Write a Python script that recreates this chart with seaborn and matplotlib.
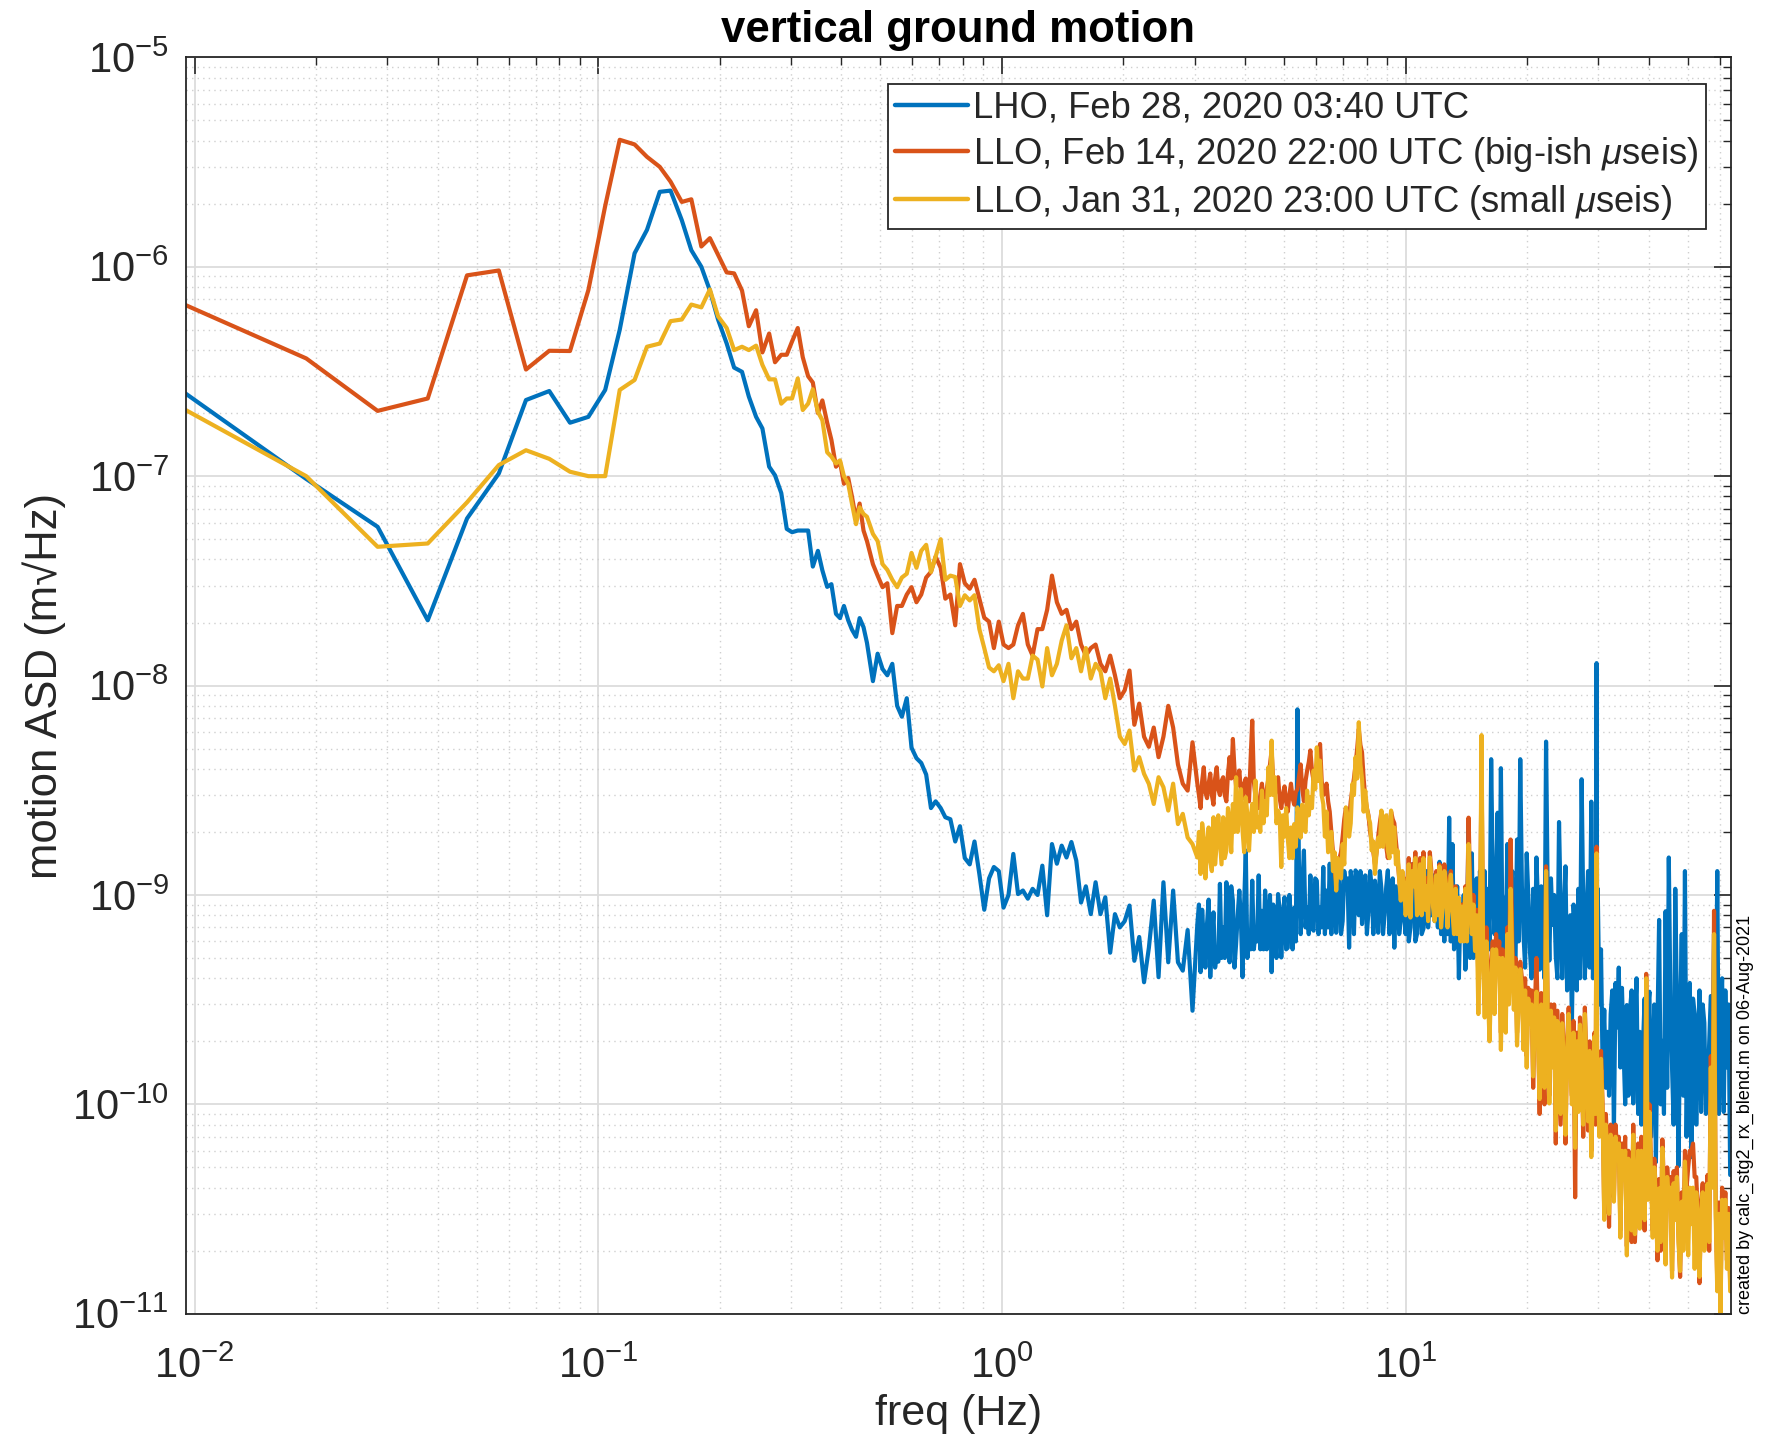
import numpy as np
import pandas as pd
import matplotlib
matplotlib.use("Agg")
import matplotlib.pyplot as plt
import seaborn as sns
from matplotlib.lines import Line2D
from matplotlib.ticker import LogLocator, LogFormatterMathtext, NullFormatter

# ---------------- data ----------------
# frequency samples (Hz)
freq_low = [0.0095, 0.0189, 0.0284, 0.0378, 0.0473, 0.0567, 0.0662, 0.0756, 0.0851, 0.0945,
            0.104, 0.113, 0.123, 0.132, 0.142, 0.151, 0.161, 0.170, 0.180, 0.189,
            0.198, 0.208, 0.217, 0.227, 0.236, 0.246, 0.255, 0.265, 0.274, 0.284,
            0.293, 0.302, 0.312, 0.321, 0.331, 0.340, 0.350, 0.359, 0.369, 0.378,
            0.388, 0.397, 0.406, 0.416, 0.425, 0.435, 0.444, 0.454, 0.463]
freq_mid = [0.479, 0.492, 0.506, 0.520, 0.535, 0.550, 0.565, 0.581, 0.597, 0.614,
            0.631, 0.649, 0.667, 0.685, 0.705, 0.724, 0.745, 0.766, 0.787, 0.809,
            0.832, 0.855, 0.879, 0.904, 0.929, 0.955, 0.982, 1.009, 1.038, 1.067,
            1.096, 1.127, 1.159, 1.191, 1.225, 1.259, 1.294, 1.330, 1.368, 1.406,
            1.445, 1.486, 1.528, 1.570, 1.614, 1.660, 1.706, 1.754, 1.803, 1.854,
            1.905, 1.959, 2.014, 2.070, 2.128, 2.188, 2.249, 2.312, 2.377, 2.443,
            2.512, 2.582, 2.655, 2.729, 2.805, 2.884, 2.965]
freq_3_10 = [3.048, 3.105, 3.162, 3.221, 3.281, 3.342, 3.404, 3.467, 3.532, 3.597,
             3.664, 3.733, 3.802, 3.873, 3.945, 4.018, 4.093, 4.169, 4.246, 4.325,
             4.406, 4.487, 4.571, 4.656, 4.742, 4.831, 4.920, 5.012, 5.105, 5.200,
             5.297, 5.395, 5.495, 5.598, 5.702, 5.808, 5.916, 6.026, 6.138, 6.252,
             6.368, 6.486, 6.607, 6.730, 6.855, 6.982, 7.112, 7.244, 7.379, 7.516,
             7.656, 7.798, 7.943, 8.091, 8.241, 8.395, 8.551, 8.710, 8.872, 9.036,
             9.204, 9.376, 9.550, 9.727, 9.908]
freq_3_10_b = [3.076, 3.133, 3.191, 3.251, 3.311, 3.373, 3.435, 3.499, 3.564, 3.630,
               3.698, 3.767, 3.837, 3.909, 3.981, 4.055, 4.131, 4.207, 4.285, 4.365,
               4.446, 4.529, 4.613, 4.699, 4.786, 4.875, 4.966, 5.058, 5.152, 5.248,
               5.346, 5.445, 5.546, 5.650, 5.755, 5.862, 5.971, 6.082, 6.195, 6.310,
               6.427, 6.546, 6.668, 6.792, 6.918, 7.047, 7.178, 7.311, 7.447, 7.586,
               7.727, 7.870, 8.017, 8.166, 8.318, 8.473, 8.630, 8.791, 8.954, 9.120,
               9.290, 9.462, 9.638, 9.817, 10.00]
freq_10_64 = [10.09, 10.28, 10.47, 10.67, 10.86, 11.07, 11.27, 11.48, 11.69, 11.91,
              12.13, 12.36, 12.59, 12.82, 13.06, 13.30, 13.55, 13.80, 14.06, 14.32,
              14.59, 14.86, 15.14, 15.42, 15.70, 16.00, 16.29, 16.60, 16.90, 17.22,
              17.54, 17.86, 18.20, 18.54, 18.88, 19.23, 19.59, 19.95, 20.32, 20.70,
              21.09, 21.48, 21.88, 22.28, 22.70, 23.12, 23.55, 23.99, 24.43, 24.89,
              25.35, 25.82, 26.30, 26.79, 27.29, 27.80, 28.31, 28.84, 29.38, 29.72,
              29.92, 30.48, 31.05, 31.62, 32.21, 32.81, 33.42, 34.04, 34.67, 35.32,
              35.97, 36.64, 37.33, 38.02, 38.73, 39.45, 40.18, 40.93, 41.69, 42.46,
              43.25, 44.06, 44.87, 45.71, 46.56, 47.42, 48.31, 49.20, 50.12, 51.05,
              52.00, 52.97, 53.95, 54.95, 55.98, 57.02, 58.08, 59.16, 60.26, 61.38,
              62.52, 63.68]
freq_10_64_b = [10.18, 10.37, 10.57, 10.76, 10.96, 11.17, 11.37, 11.58, 11.80, 12.02,
                12.24, 12.47, 12.70, 12.94, 13.18, 13.42, 13.67, 13.93, 14.19, 14.45,
                14.72, 15.00, 15.28, 15.56, 15.85, 16.14, 16.44, 16.75, 17.06, 17.38,
                17.70, 18.03, 18.37, 18.71, 19.05, 19.41, 19.77, 20.13, 20.51, 20.89,
                21.28, 21.68, 22.08, 22.49, 22.91, 23.33, 23.77, 24.21, 24.66, 25.12,
                25.58, 26.06, 26.54, 27.04, 27.54, 28.05, 28.57, 29.11, 29.55, 29.82,
                30.20, 30.76, 31.33, 31.91, 32.51, 33.11, 33.73, 34.35, 34.99, 35.64,
                36.30, 36.98, 37.67, 38.37, 39.09, 39.81, 40.55, 41.31, 42.07, 42.85,
                43.65, 44.46, 45.29, 46.13, 46.99, 47.86, 48.75, 49.66, 50.58, 51.52,
                52.48, 53.46, 54.45, 55.46, 56.50, 57.55, 58.62, 59.71, 60.82, 61.95,
                63.10]

# LHO, Feb 28, 2020 03:40 UTC  (m/rtHz)
lho_low = [2.48e-7, 9.7e-8, 5.73e-8, 2.05e-8, 6.28e-8, 1.03e-7, 2.31e-7, 2.55e-7, 1.8e-7, 1.92e-7,
           2.58e-7, 5.0e-7, 1.16e-6, 1.5e-6, 2.28e-6, 2.31e-6, 1.67e-6, 1.2e-6, 1.0e-6, 7.7e-7,
           5.6e-7, 4.3e-7, 3.3e-7, 3.15e-7, 2.4e-7, 1.92e-7, 1.69e-7, 1.11e-7, 1.01e-7, 8.3e-8,
           5.6e-8, 5.4e-8, 5.5e-8, 5.5e-8, 5.5e-8, 3.7e-8, 4.4e-8, 3.55e-8, 2.96e-8, 3.05e-8,
           2.2e-8, 2.1e-8, 2.4e-8, 2.05e-8, 1.85e-8, 1.71e-8, 2.1e-8, 1.9e-8, 1.6e-8]
lho_mid = [1.05e-8, 1.42e-8, 1.2e-8, 1.12e-8, 1.27e-8, 8.0e-9, 7.1e-9, 8.7e-9, 5.05e-9, 4.5e-9,
           4.27e-9, 3.76e-9, 2.6e-9, 2.8e-9, 2.6e-9, 2.35e-9, 2.3e-9, 1.8e-9, 2.13e-9, 1.5e-9,
           1.4e-9, 1.8e-9, 1.26e-9, 8.5e-10, 1.2e-9, 1.36e-9, 1.3e-9, 8.7e-10, 1.0e-9, 1.57e-9,
           1.01e-9, 1.05e-9, 9.6e-10, 1.07e-9, 1.0e-9, 1.38e-9, 8.0e-10, 1.75e-9, 1.41e-9, 1.72e-9,
           1.51e-9, 1.79e-9, 1.46e-9, 9.2e-10, 1.1e-9, 8.1e-10, 1.15e-9, 8.1e-10, 9.75e-10, 5.3e-10,
           8.1e-10, 7.0e-10, 7.5e-10, 8.9e-10, 4.85e-10, 6.3e-10, 3.83e-10, 5.6e-10, 9.4e-10, 4.05e-10,
           1.15e-9, 4.77e-10, 1.05e-9, 4.77e-10, 4.35e-10, 6.8e-10, 2.8e-10]
lho_3_10 = [7.26e-10, 4.28e-10, 6.0e-10, 7.26e-10, 4.05e-10, 8.26e-10, 5.2e-10, 1.13e-9, 7.0e-10, 1.15e-9,
            4.77e-10, 9.4e-10, 5.83e-10, 1.05e-9, 4.05e-10, 1.63e-9, 6.5e-10, 1.17e-9, 6.6e-10, 1.24e-9,
            8.4e-10, 1.05e-9, 7.8e-10, 4.28e-10, 7.5e-10, 1.01e-9, 5.03e-10, 9.75e-10, 5.6e-10, 7.5e-10,
            8.7e-10, 7.7e-9, 6.5e-10, 1.63e-9, 8.7e-10, 1.24e-9, 6.75e-10, 1.17e-9, 8.7e-10, 1.36e-9,
            1.05e-9, 1.41e-9, 1.05e-9, 6.6e-10, 1.24e-9, 7.5e-10, 1.1e-9, 5.6e-10, 1.09e-9, 1.31e-9,
            8.0e-10, 7.26e-10, 1.24e-9, 8.4e-10, 1.09e-9, 1.17e-9, 6.6e-10, 1.07e-9, 8.1e-10, 1.31e-9,
            1.0e-9, 5.6e-10, 1.05e-9, 7.5e-10, 8.7e-10]
lho_3_10_b = [9.0e-10, 8.5e-10, 4.5e-10, 9.5e-10, 6.0e-10, 4.5e-10, 4.8e-10, 5.0e-10, 5.0e-10, 8.0e-10,
              1.1e-9, 4.5e-10, 8.0e-10, 7.5e-10, 9.0e-10, 5.0e-10, 5.5e-10, 5.5e-10, 6.0e-10, 5.5e-10,
              5.5e-10, 5.5e-10, 1.0e-9, 9.0e-10, 5.0e-10, 8.5e-10, 8.0e-10, 5.5e-10, 1.0e-9, 5.5e-10,
              6.0e-10, 1.2e-9, 1.1e-9, 7.0e-10, 6.5e-10, 7.0e-10, 1.2e-9, 6.5e-10, 7.0e-10, 6.5e-10,
              7.0e-10, 6.5e-10, 1.3e-9, 1.1e-9, 6.5e-10, 1.3e-9, 1.2e-9, 1.3e-9, 6.5e-10, 1.2e-9,
              1.3e-9, 1.0e-9, 6.5e-10, 1.3e-9, 6.5e-10, 9.5e-10, 1.3e-9, 6.5e-10, 1.1e-9, 6.5e-10,
              1.2e-9, 1.1e-9, 6.5e-10, 1.2e-9, 6.5e-10]
lho_10_64 = [1.2e-9, 7.0e-10, 1.1e-9, 6.5e-10, 9.5e-10, 6.9e-10, 1.3e-9, 9.7e-10, 1.24e-9, 1.02e-9,
             1.44e-9, 8.8e-10, 1.07e-9, 2.34e-9, 1.75e-9, 7.96e-10, 4.0e-10, 6.5e-10, 4.4e-10, 2.23e-9,
             1.58e-9, 9.7e-10, 5.9e-10, 8.8e-10, 1.3e-9, 1.07e-9, 4.45e-9, 6.5e-10, 2.47e-9, 4.03e-9,
             9.7e-10, 1.75e-9, 9.7e-10, 5.9e-10, 1.84e-9, 4.45e-9, 6.5e-10, 1.58e-9, 5.4e-10, 1.07e-9,
             1.51e-9, 4.4e-10, 6.9e-10, 5.4e-9, 4.86e-10, 7.2e-10, 5.1e-10, 2.23e-9, 4.0e-10, 1.37e-9,
             4.63e-10, 2.45e-10, 6.5e-10, 1.07e-9, 3.57e-9, 4.0e-10, 1.3e-9, 2.79e-9, 8.36e-10, 1.28e-8,
             1.07e-9, 5.5e-10, 2.83e-10, 2.22e-10, 2.7e-10, 7.5e-11, 2.33e-10, 1.5e-10, 1.82e-10, 2.98e-10,
             2.83e-10, 1.01e-10, 4.0e-10, 2.22e-10, 1.91e-10, 1.36e-10, 3.45e-10, 1.5e-10, 5.3e-11, 7.6e-10,
             2.01e-10, 8.36e-10, 1.51e-9, 1.5e-10, 1.07e-9, 5.07e-11, 6.5e-10, 1.3e-9, 2.45e-10, 5.6e-11,
             2.7e-10, 1.91e-10, 9.2e-11, 2.45e-10, 1.17e-10, 3.29e-10, 6.5e-10, 1.3e-9, 2.45e-10, 9.2e-11,
             1.5e-10, 4.6e-11]
lho_10_64_b = [6.0e-10, 1.4e-9, 6.0e-10, 1.3e-9, 6.5e-10, 8.0e-10, 7.0e-10, 8.0e-10, 7.5e-10, 7.0e-10,
               6.5e-10, 6.0e-10, 6.5e-10, 6.0e-10, 5.5e-10, 1.1e-9, 9.0e-10, 1.0e-9, 6.0e-10, 5.0e-10,
               5.0e-10, 1.2e-9, 1.3e-9, 5.5e-10, 5.0e-10, 5.5e-10, 1.2e-9, 1.1e-9, 6.0e-10, 5.5e-10,
               5.0e-10, 4.8e-10, 1.3e-9, 4.5e-10, 6.0e-10, 1.1e-9, 4.5e-10, 1.0e-9, 4.0e-10, 4.5e-10,
               9.0e-10, 1.1e-9, 4.0e-10, 1.0e-9, 1.2e-9, 1.0e-9, 4.0e-10, 9.0e-10, 8.0e-10, 3.5e-10,
               8.0e-10, 9.0e-10, 3.5e-10, 4.0e-10, 9.0e-10, 8.0e-10, 4.5e-10, 4.0e-10, 4.0e-10, 5.0e-10,
               3.0e-10, 1.5e-10, 1.2e-10, 1.1e-10, 3.5e-10, 3.8e-10, 4.5e-10, 3.6e-10, 1.0e-10, 1.1e-10,
               3.5e-10, 2.5e-10, 9.0e-11, 8.0e-11, 3.2e-10, 2.8e-10, 7.0e-11, 3.0e-10, 2.4e-10, 1.0e-10,
               9.0e-11, 1.2e-10, 3.0e-10, 8.0e-11, 3.0e-10, 2.5e-10, 1.1e-10, 7.0e-11, 3.8e-10, 3.2e-10,
               8.0e-11, 3.5e-10, 3.0e-10, 9.0e-11, 2.0e-10, 1.0e-10, 1.6e-10, 9.0e-11, 4.0e-10, 3.5e-10,
               3.0e-10]

# LLO, Feb 14, 2020 22:00 UTC (big-ish useis)
llo_feb_low = [6.56e-7, 3.65e-7, 2.05e-7, 2.35e-7, 9.1e-7, 9.6e-7, 3.23e-7, 3.97e-7, 3.96e-7, 7.74e-7,
               1.95e-6, 4.04e-6, 3.84e-6, 3.35e-6, 3.0e-6, 2.55e-6, 2.04e-6, 2.1e-6, 1.25e-6, 1.37e-6,
               1.14e-6, 9.4e-7, 9.3e-7, 7.7e-7, 5.2e-7, 6.2e-7, 3.9e-7, 4.8e-7, 3.5e-7, 3.8e-7,
               3.8e-7, 4.4e-7, 5.1e-7, 3.7e-7, 3.0e-7, 2.8e-7, 2.0e-7, 2.3e-7, 1.8e-7, 1.49e-7,
               1.11e-7, 1.17e-7, 9.2e-8, 9.8e-8, 8.0e-8, 6.2e-8, 7.4e-8, 5.5e-8, 4.9e-8]
llo_feb_mid = [3.8e-8, 3.35e-8, 2.95e-8, 3.08e-8, 1.78e-8, 2.4e-8, 2.4e-8, 2.72e-8, 2.95e-8, 2.5e-8,
               2.72e-8, 3.28e-8, 3.49e-8, 4.13e-8, 3.65e-8, 2.6e-8, 2.72e-8, 1.94e-8, 3.8e-8, 3.08e-8,
               2.9e-8, 3.2e-8, 2.6e-8, 2.11e-8, 2.02e-8, 1.51e-8, 2.02e-8, 1.57e-8, 1.51e-8, 1.57e-8,
               1.94e-8, 2.2e-8, 1.57e-8, 1.39e-8, 1.86e-8, 1.86e-8, 2.3e-8, 3.35e-8, 2.5e-8, 2.2e-8,
               2.3e-8, 1.86e-8, 2.02e-8, 1.57e-8, 1.39e-8, 1.51e-8, 1.57e-8, 1.27e-8, 1.17e-8, 1.39e-8,
               1.12e-8, 8.7e-9, 9.5e-9, 1.18e-8, 6.5e-9, 8.2e-9, 5.7e-9, 5.1e-9, 6.3e-9, 4.55e-9,
               5.7e-9, 8.0e-9, 6.3e-9, 4.2e-9, 3.4e-9, 3.15e-9, 5.36e-9]
llo_feb_3_10 = [3.4e-9, 2.6e-9, 4.07e-9, 2.9e-9, 3.8e-9, 2.7e-9, 4.07e-9, 3.0e-9, 3.65e-9, 2.8e-9,
                4.55e-9, 5.56e-9, 3.3e-9, 3.93e-9, 2.9e-9, 3.6e-9, 2.8e-9, 6.8e-9, 2.93e-9, 2.6e-9,
                3.4e-9, 2.5e-9, 3.6e-9, 4.9e-9, 3.0e-9, 3.65e-9, 2.6e-9, 3.3e-9, 2.5e-9, 3.4e-9,
                2.7e-9, 3.2e-9, 4.2e-9, 2.8e-9, 3.93e-9, 4.9e-9, 3.5e-9, 4.2e-9, 5.26e-9, 3.0e-9,
                3.4e-9, 2.5e-9, 1.6e-9, 1.15e-9, 1.5e-9, 1.9e-9, 2.6e-9, 2.3e-9, 3.2e-9, 4.2e-9,
                6.2e-9, 4.8e-9, 2.9e-9, 2.4e-9, 1.8e-9, 1.4e-9, 1.9e-9, 2.5e-9, 2.1e-9, 1.5e-9,
                2.5e-9, 2.2e-9, 1.5e-9, 1.0e-9, 1.2e-9]
llo_feb_3_10_b = [3.0e-9, 3.5e-9, 3.1e-9, 3.4e-9, 3.0e-9, 3.6e-9, 3.2e-9, 3.5e-9, 3.0e-9, 3.8e-9,
                  3.6e-9, 4.0e-9, 3.4e-9, 3.1e-9, 3.4e-9, 3.0e-9, 4.5e-9, 3.5e-9, 2.7e-9, 3.0e-9,
                  2.8e-9, 3.2e-9, 4.2e-9, 3.5e-9, 3.4e-9, 2.9e-9, 3.0e-9, 2.8e-9, 3.0e-9, 2.9e-9,
                  3.1e-9, 3.7e-9, 3.2e-9, 3.5e-9, 4.3e-9, 3.9e-9, 3.9e-9, 4.6e-9, 3.5e-9, 3.1e-9,
                  2.8e-9, 2.0e-9, 1.3e-9, 1.4e-9, 1.6e-9, 2.3e-9, 2.2e-9, 2.8e-9, 3.6e-9, 5.0e-9,
                  5.2e-9, 3.6e-9, 2.6e-9, 2.0e-9, 1.6e-9, 1.6e-9, 2.2e-9, 2.3e-9, 1.7e-9, 2.0e-9,
                  2.3e-9, 1.8e-9, 1.2e-9, 1.1e-9, 1.1e-9]
llo_feb_10_64 = [1.1e-9, 8.5e-10, 1.2e-9, 9.0e-10, 1.5e-9, 1.6e-9, 1.2e-9, 1.6e-9, 9.5e-10, 1.3e-9,
                 1.4e-9, 9.5e-10, 1.2e-9, 1.1e-9, 9.0e-10, 1.1e-9, 8.0e-10, 9.0e-10, 1.1e-9, 2.34e-9,
                 7.0e-10, 6.0e-10, 4.0e-10, 4.0e-9, 3.0e-10, 4.0e-10, 4.5e-10, 3.0e-10, 5.0e-10, 2.2e-10,
                 4.5e-10, 7.0e-10, 1.84e-9, 3.5e-10, 2.2e-10, 4.8e-10, 2.0e-10, 1.7e-10, 2.7e-10, 1.2e-10,
                 5.0e-10, 9.0e-11, 2.0e-10, 1.37e-9, 1.1e-10, 1.7e-10, 6.5e-11, 1.5e-10, 2.7e-10, 6.5e-11,
                 2.9e-10, 1.1e-10, 3.6e-11, 1.0e-10, 1.8e-10, 2.9e-10, 7.5e-11, 6.0e-11, 2.2e-10, 1.7e-9,
                 1.6e-10, 1.8e-10, 3.0e-11, 6.0e-11, 8.0e-11, 3.6e-11, 6.0e-11, 2.5e-11, 4.8e-11, 2.1e-11,
                 4.0e-11, 8.0e-11, 3.6e-11, 2.8e-11, 5.3e-11, 4.2e-10, 1.0e-10, 2.5e-11, 3.6e-11, 4.4e-11,
                 6.8e-11, 1.9e-11, 3.7e-11, 1.6e-11, 3.1e-11, 2.4e-11, 3.8e-11, 6.0e-11, 5.0e-11, 6.0e-11,
                 4.5e-11, 2.9e-11, 3.4e-11, 2.2e-11, 4.6e-11, 1.7e-10, 8.4e-10, 1.4e-11, 1.1e-11, 2.5e-11,
                 1.8e-11, 1.4e-11]
llo_feb_10_64_b = [1.5e-9, 1.4e-9, 1.6e-9, 1.0e-9, 8.5e-10, 9.5e-10, 8.0e-10, 1.3e-9, 8.0e-10, 9.0e-10,
                   8.0e-10, 1.4e-9, 7.5e-10, 1.3e-9, 7.0e-10, 7.0e-10, 6.5e-10, 6.5e-10, 7.0e-10, 1.1e-9,
                   1.0e-9, 8.5e-10, 7.0e-10, 6.0e-10, 7.0e-10, 2.5e-10, 6.0e-10, 6.5e-10, 6.0e-10, 5.5e-10,
                   2.6e-10, 3.5e-10, 6.0e-10, 5.0e-10, 3.5e-10, 4.0e-10, 4.0e-10, 3.6e-10, 3.5e-10, 2.8e-10,
                   2.4e-10, 3.4e-10, 1.0e-10, 2.8e-10, 3.0e-10, 3.0e-10, 2.8e-10, 8.0e-11, 1.7e-10, 2.0e-10,
                   1.7e-10, 2.5e-10, 2.2e-10, 2.6e-10, 7.0e-11, 1.6e-10, 2.0e-10, 1.3e-10, 8.0e-11, 1.1e-10,
                   8.0e-11, 1.0e-10, 9.0e-11, 2.6e-11, 7.0e-11, 8.0e-11, 7.0e-11, 6.5e-11, 7.0e-11, 6.0e-11,
                   2.2e-11, 2.2e-11, 6.5e-11, 7.0e-11, 2.5e-11, 4.0e-11, 5.0e-11, 5.5e-11, 1.8e-11, 2.0e-11,
                   4.0e-11, 5.0e-11, 4.5e-11, 4.8e-11, 5.0e-11, 1.5e-11, 2.2e-11, 4.0e-11, 6.0e-11, 6.5e-11,
                   4.5e-11, 1.4e-11, 4.2e-11, 2.8e-11, 2.0e-11, 4.5e-11, 3.5e-11, 3.4e-11, 4.0e-11, 3.8e-11,
                   3.2e-11]

# LLO, Jan 31, 2020 23:00 UTC (small useis)
llo_jan_low = [2.07e-7, 1.0e-7, 4.6e-8, 4.77e-8, 7.5e-8, 1.13e-7, 1.33e-7, 1.21e-7, 1.05e-7, 1.0e-7,
               1.0e-7, 2.58e-7, 2.88e-7, 4.15e-7, 4.3e-7, 5.5e-7, 5.6e-7, 6.6e-7, 6.4e-7, 7.8e-7,
               5.8e-7, 5.1e-7, 4.0e-7, 4.15e-7, 4.0e-7, 4.2e-7, 3.4e-7, 2.9e-7, 2.9e-7, 2.22e-7,
               2.35e-7, 2.35e-7, 2.93e-7, 2.07e-7, 2.22e-7, 2.6e-7, 2.03e-7, 1.85e-7, 1.3e-7, 1.24e-7,
               1.15e-7, 1.19e-7, 1.0e-7, 9.2e-8, 7.4e-8, 5.9e-8, 7.1e-8, 6.6e-8, 6.4e-8]
llo_jan_mid = [5.3e-8, 4.9e-8, 3.8e-8, 3.57e-8, 3.2e-8, 2.95e-8, 3.28e-8, 3.42e-8, 4.3e-8, 3.65e-8,
               4.4e-8, 4.7e-8, 3.49e-8, 4.13e-8, 5.0e-8, 3.2e-8, 3.35e-8, 3.3e-8, 2.4e-8, 2.7e-8,
               2.55e-8, 2.7e-8, 1.86e-8, 1.51e-8, 1.22e-8, 1.17e-8, 1.25e-8, 1.05e-8, 1.27e-8, 8.7e-9,
               1.17e-8, 1.08e-8, 1.08e-8, 1.39e-8, 1.33e-8, 9.9e-9, 1.51e-8, 1.12e-8, 1.27e-8, 1.64e-8,
               1.94e-8, 1.35e-8, 1.51e-8, 1.17e-8, 1.51e-8, 1.08e-8, 1.27e-8, 1.17e-8, 8.7e-9, 1.08e-8,
               8.0e-9, 5.7e-9, 5.26e-9, 6.1e-9, 3.93e-9, 4.55e-9, 3.79e-9, 3.39e-9, 2.72e-9, 3.65e-9,
               3.27e-9, 2.53e-9, 3.4e-9, 2.18e-9, 2.44e-9, 1.88e-9, 1.75e-9]
llo_jan_3_10 = [1.51e-9, 1.26e-9, 1.88e-9, 1.63e-9, 1.46e-9, 2.35e-9, 1.75e-9, 1.82e-9, 2.35e-9, 1.63e-9,
                2.2e-9, 2.72e-9, 3.65e-9, 2.62e-9, 2.03e-9, 2.93e-9, 1.63e-9, 2.72e-9, 3.52e-9, 2.35e-9,
                3.15e-9, 2.8e-9, 4.07e-9, 5.46e-9, 3.65e-9, 2.53e-9, 1.36e-9, 1.9e-9, 1.88e-9, 2.1e-9,
                2.18e-9, 2.62e-9, 1.88e-9, 2.1e-9, 3.15e-9, 2.93e-9, 3.93e-9, 5.07e-9, 4.38e-9, 2.72e-9,
                2.5e-9, 1.75e-9, 1.3e-9, 1.05e-9, 1.31e-9, 1.75e-9, 2.62e-9, 1.9e-9, 3.39e-9, 4.55e-9,
                6.68e-9, 3.6e-9, 3.15e-9, 2.35e-9, 1.63e-9, 1.26e-9, 1.88e-9, 2.53e-9, 2.18e-9, 1.63e-9,
                2.53e-9, 2.1e-9, 1.63e-9, 9.4e-10, 1.13e-9]
llo_jan_3_10_b = [2.0e-9, 2.2e-9, 1.2e-9, 2.1e-9, 1.3e-9, 1.4e-9, 2.4e-9, 1.4e-9, 1.5e-9, 2.6e-9,
                  1.6e-9, 2.0e-9, 2.0e-9, 3.2e-9, 1.6e-9, 2.4e-9, 2.3e-9, 2.0e-9, 2.1e-9, 2.0e-9,
                  2.2e-9, 2.4e-9, 3.0e-9, 3.0e-9, 2.2e-9, 2.4e-9, 2.4e-9, 2.6e-9, 1.5e-9, 1.5e-9,
                  1.7e-9, 2.3e-9, 2.7e-9, 2.0e-9, 2.4e-9, 2.6e-9, 3.2e-9, 3.5e-9, 3.0e-9, 1.9e-9,
                  1.6e-9, 2.0e-9, 1.6e-9, 1.5e-9, 1.2e-9, 1.4e-9, 2.4e-9, 2.2e-9, 3.0e-9, 3.6e-9,
                  4.2e-9, 2.5e-9, 2.6e-9, 2.2e-9, 1.8e-9, 1.6e-9, 1.7e-9, 1.7e-9, 2.4e-9, 1.5e-9,
                  1.6e-9, 1.4e-9, 1.2e-9, 1.3e-9, 8.0e-10]
llo_jan_10_64 = [1.0e-9, 7.8e-10, 1.1e-9, 8.0e-10, 1.4e-9, 1.5e-9, 1.1e-9, 1.51e-9, 8.8e-10, 1.24e-9,
                 1.37e-9, 8.8e-10, 1.12e-9, 1.02e-9, 8.4e-10, 1.07e-9, 9.7e-10, 8.8e-10, 1.07e-9, 1.75e-9,
                 6.5e-10, 5.4e-10, 2.7e-10, 5.8e-9, 2.6e-10, 3.29e-10, 4.0e-10, 2.7e-10, 4.42e-10, 1.82e-10,
                 3.81e-10, 6.5e-10, 1.07e-9, 2.83e-10, 1.91e-10, 4.42e-10, 1.82e-10, 1.5e-10, 2.44e-10, 1.36e-10,
                 3.45e-10, 1.06e-10, 1.82e-10, 1.3e-9, 1.01e-10, 1.5e-10, 7.5e-11, 1.36e-10, 2.44e-10, 7.16e-11,
                 2.7e-10, 1.0e-10, 6.2e-11, 9.2e-11, 1.65e-10, 2.7e-10, 8.3e-11, 5.6e-11, 2.11e-10, 1.58e-9,
                 1.5e-10, 1.65e-10, 2.81e-11, 5.6e-11, 7.16e-11, 3.43e-11, 5.6e-11, 2.31e-11, 4.38e-11, 1.9e-11,
                 3.78e-11, 7.16e-11, 3.43e-11, 2.55e-11, 4.83e-11, 4.0e-10, 9.2e-11, 2.31e-11, 3.43e-11, 3.97e-11,
                 6.2e-11, 1.72e-11, 3.43e-11, 1.49e-11, 2.81e-11, 2.2e-11, 3.43e-11, 5.33e-11, 1.9e-11, 2.68e-11,
                 1.64e-11, 2.68e-11, 3.1e-11, 2.0e-11, 4.17e-11, 1.5e-10, 6.5e-10, 1.28e-11, 1.0e-11, 2.31e-11,
                 1.64e-11, 1.28e-11]
llo_jan_10_64_b = [1.4e-9, 1.3e-9, 1.5e-9, 9.0e-10, 8.0e-10, 8.5e-10, 7.5e-10, 1.2e-9, 7.5e-10, 8.0e-10,
                   7.0e-10, 1.3e-9, 7.0e-10, 1.25e-9, 6.5e-10, 6.5e-10, 6.0e-10, 6.0e-10, 6.0e-10, 1.0e-9,
                   9.0e-10, 8.0e-10, 6.0e-10, 5.0e-10, 6.0e-10, 2.0e-10, 5.5e-10, 5.5e-10, 5.0e-10, 5.0e-10,
                   2.2e-10, 3.0e-10, 5.0e-10, 4.5e-10, 3.0e-10, 3.5e-10, 3.5e-10, 3.2e-10, 3.0e-10, 2.5e-10,
                   2.0e-10, 3.0e-10, 1.2e-10, 2.5e-10, 2.8e-10, 2.6e-10, 2.5e-10, 9.0e-11, 1.5e-10, 1.8e-10,
                   1.5e-10, 2.2e-10, 2.0e-10, 2.4e-10, 8.0e-11, 1.4e-10, 1.8e-10, 1.2e-10, 9.0e-11, 1.0e-10,
                   7.0e-11, 9.0e-11, 8.0e-11, 3.0e-11, 6.0e-11, 7.0e-11, 6.5e-11, 6.0e-11, 6.0e-11, 5.5e-11,
                   2.5e-11, 2.4e-11, 6.0e-11, 6.0e-11, 2.8e-11, 3.5e-11, 4.5e-11, 5.0e-11, 2.0e-11, 2.2e-11,
                   3.5e-11, 4.5e-11, 4.0e-11, 4.2e-11, 4.5e-11, 1.6e-11, 2.0e-11, 3.5e-11, 4.0e-11, 4.0e-11,
                   3.8e-11, 1.5e-11, 3.8e-11, 2.5e-11, 2.2e-11, 4.0e-11, 3.0e-11, 3.0e-11, 3.5e-11, 3.5e-11,
                   3.0e-11]

series_labels = ["LHO, Feb 28, 2020 03:40 UTC",
                 r"LLO, Feb 14, 2020 22:00 UTC (big-ish $\mu$seis)",
                 r"LLO, Jan 31, 2020 23:00 UTC (small $\mu$seis)"]
series_colors = ["#0072BD", "#D95319", "#EDB120"]

# ---------------- build long-form table ----------------
freq_all = freq_low + freq_mid + freq_3_10 + freq_3_10_b + freq_10_64 + freq_10_64_b
values = [lho_low + lho_mid + lho_3_10 + lho_3_10_b + lho_10_64 + lho_10_64_b,
          llo_feb_low + llo_feb_mid + llo_feb_3_10 + llo_feb_3_10_b + llo_feb_10_64 + llo_feb_10_64_b,
          llo_jan_low + llo_jan_mid + llo_jan_3_10 + llo_jan_3_10_b + llo_jan_10_64 + llo_jan_10_64_b]
frames = []
for lab, vals in zip(series_labels, values):
    part = pd.DataFrame({"freq": freq_all, "asd": vals, "series": lab})
    frames.append(part.sort_values("freq", kind="mergesort"))
df = pd.concat(frames, ignore_index=True)

# ---------------- style ----------------
sns.set_theme(style="white")
plt.rcParams['font.family'] = ['Liberation Sans', 'DejaVu Sans']
plt.rcParams['mathtext.fontset'] = 'custom'
plt.rcParams['mathtext.rm'] = 'Liberation Sans'
plt.rcParams['mathtext.it'] = 'Liberation Sans:italic'
plt.rcParams['mathtext.bf'] = 'Liberation Sans:bold'
plt.rcParams['axes.unicode_minus'] = False

fig = plt.figure(figsize=(17.68, 14.38), dpi=100)
ax = fig.add_axes([0.1050, 0.0864, 0.8741, 0.8737])
ax.set_xscale('log')
ax.set_yscale('log')

sns.lineplot(data=df, x="freq", y="asd", hue="series", hue_order=series_labels,
             palette=dict(zip(series_labels, series_colors)), estimator=None,
             sort=False, linewidth=3.0, legend=False, ax=ax)

ax.set_xlim(0.0095, 64)
ax.set_ylim(1e-11, 1e-5)

for axis in (ax.xaxis, ax.yaxis):
    axis.set_major_locator(LogLocator(base=10, numticks=20))
    axis.set_minor_locator(LogLocator(base=10, subs=np.arange(2, 10), numticks=20))
    axis.set_major_formatter(LogFormatterMathtext())
    axis.set_minor_formatter(NullFormatter())

ax.grid(which='major', color='#dcdcdc', linewidth=1.3, linestyle='-')
ax.grid(which='minor', color='#cfcfcf', linewidth=1.0, linestyle=(0, (1, 3)))
ax.set_axisbelow(True)

edge = '#262626'
for sp in ax.spines.values():
    sp.set_color(edge)
    sp.set_linewidth(1.3)
ax.tick_params(which='major', direction='in', length=12, width=1.2, color=edge,
               top=True, right=True, labelsize=30, labelcolor=edge)
ax.tick_params(axis='x', which='major', pad=24)
ax.tick_params(axis='y', which='major', pad=12)
ax.tick_params(which='minor', direction='in', length=6, width=1.0, color=edge,
               top=True, right=True)

ax.set_title("vertical ground motion", fontsize=31.5, fontweight='bold', pad=11, color='black')
ax.set_xlabel("freq (Hz)", fontsize=31, labelpad=5, color=edge)
ax.set_ylabel("motion ASD (m\u221aHz)", fontsize=31.5, labelpad=4, color=edge)

handles = [Line2D([0], [0], color=c, linewidth=3.2) for c in series_colors]
leg = ax.legend(handles, series_labels, loc='upper right', bbox_to_anchor=(0.9838, 0.9791),
                borderaxespad=0, fontsize=26.2, frameon=True, fancybox=False,
                edgecolor=edge, framealpha=1, borderpad=0.2, handlelength=2.0,
                handletextpad=0.15, labelspacing=0.25)
leg.get_frame().set_linewidth(1.3)

fig.text(0.9875, 0.0864, "created by calc_stg2_rx_blend.m on 06-Aug-2021",
         rotation=90, ha='center', va='bottom', fontsize=13, color='black')

fig.savefig("out.png", dpi=100)
